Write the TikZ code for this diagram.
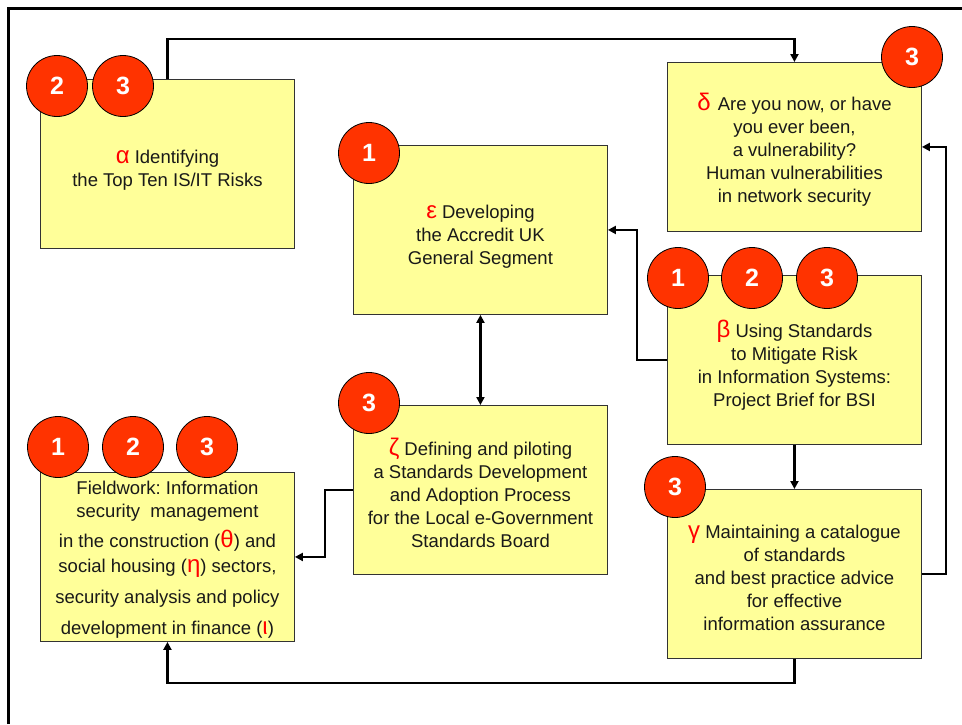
\documentclass[tikz,border=0pt]{standalone}
\usepackage{fontspec}
\setmainfont{Liberation Sans}
\usetikzlibrary{arrows.meta}

\definecolor{boxfill}{HTML}{FFFF99}
\definecolor{boxline}{HTML}{333333}
\definecolor{badgered}{HTML}{FF3300}
\definecolor{greekred}{HTML}{FF0000}
\newcommand\gk[1]{{\color{greekred}\fontsize{24}{23}\selectfont #1}}

\begin{document}
\frenchspacing
\begin{tikzpicture}[x=1pt,y=-1pt,
  task/.style={draw=boxline, line width=0.9pt, fill=boxfill, rectangle,
    anchor=north west, minimum width=254pt, minimum height=169pt,
    inner sep=0pt},
  body/.style={inner sep=0pt, align=center, text=black!90,
    font=\fontsize{18.5}{23}\selectfont},
  badge/.style={circle, draw=black, line width=0.8pt, fill=badgered,
    minimum size=61pt, inner sep=0pt, text=white,
    font=\fontsize{25}{25}\selectfont\bfseries},
  conn/.style={line width=2.4pt, -{Triangle[length=8pt,width=8pt]}},
  twoway/.style={line width=2.4pt, {Triangle[length=8pt,width=8pt]}-{Triangle[length=8pt,width=8pt]}},
]
\useasboundingbox (0,0) rectangle (962,724);

% frame
\draw[line width=3pt] (8,724) -- (8,8) -- (962,8);

% task boxes
\node[task] (alpha) at (40,79) {};
\node[task] (delta) at (667,62) {};
\node[task] (eps) at (353,145) {};
\node[task] (beta) at (667,275) {};
\node[task] (zeta) at (353,405) {};
\node[task] (gamma) at (667,489) {};
\node[task] (field) at (40,472) {};

% box texts (yshift is in page units: negative moves the text down)
\node[body] (alpha-t) at ([yshift=-6pt]alpha.center) {\gk{α} Identifying\\the Top Ten IS/IT Risks};
\node[body] (delta-t) at ([yshift=-3pt]delta.center) {\gk{δ}\ \kern2pt Are you now, or have\\you ever been,\\a vulnerability?\\Human vulnerabilities\\in network security};
\node[body] (eps-t) at ([yshift=-7pt]eps.center) {\gk{ε} Developing\\the Accredit UK\\General Segment};
\node[body] (beta-t) at ([yshift=-5pt]beta.center) {\gk{β} Using Standards\\to Mitigate Risk\\in Information Systems:\\Project Brief for BSI};
\node[body] (zeta-t) at ([yshift=-3pt]zeta.center) {\gk{ζ} Defining and piloting\\a Standards Development\\and Adoption Process\\for the Local e-Government\\Standards Board};
\node[body] (gamma-t) at ([yshift=-4pt]gamma.center) {\gk{γ} Maintaining a catalogue\\of standards\\and best practice advice\\for effective\\information assurance};
\node[body, font=\fontsize{18.5}{24}\selectfont] (field-t) at ([yshift=-3pt]field.center) {Fieldwork: Information\\[-1pt]security\ \ management\\[6pt]in the construction (\gk{θ}) and\\[1pt]social housing (\gk{η}) sectors,\\[7pt]security analysis and policy\\[7pt]development in finance (\gk{ι})};

% connectors
\coordinate (topbus) at (0,39);
\draw[conn] (alpha.north) -- (alpha.north |- topbus) -| (delta.north);
\draw[conn] (gamma.east) -- ++(24,0) |- (delta.east);
\draw[conn] (beta.west) -- ++(-30,0) |- (eps.east);
\draw[twoway] (eps.south) -- (zeta.north);
\draw[conn] (beta.south) -- (gamma.north);
\draw[conn] (zeta.west) -- ++(-28,0) |- (field.east);
\draw[conn] (gamma.south) -- ++(0,24) -| (field.south);

% phase badges
\node[badge] (a2) at (57,86) {2};
\node[badge] (a3) at (123,86) {3};
\node[badge] (d3) at (912,57) {3};
\node[badge] (e1) at (369,153) {1};
\node[badge] (b1) at (678,278) {1};
\node[badge] (b2) at (752,278) {2};
\node[badge] (b3) at (827,278) {3};
\node[badge] (f1) at (58,447) {1};
\node[badge] (f2) at (133,447) {2};
\node[badge] (f3) at (207,447) {3};
\node[badge] (z3) at (369,403) {3};
\node[badge] (g3) at (675,487) {3};
\end{tikzpicture}
\end{document}
